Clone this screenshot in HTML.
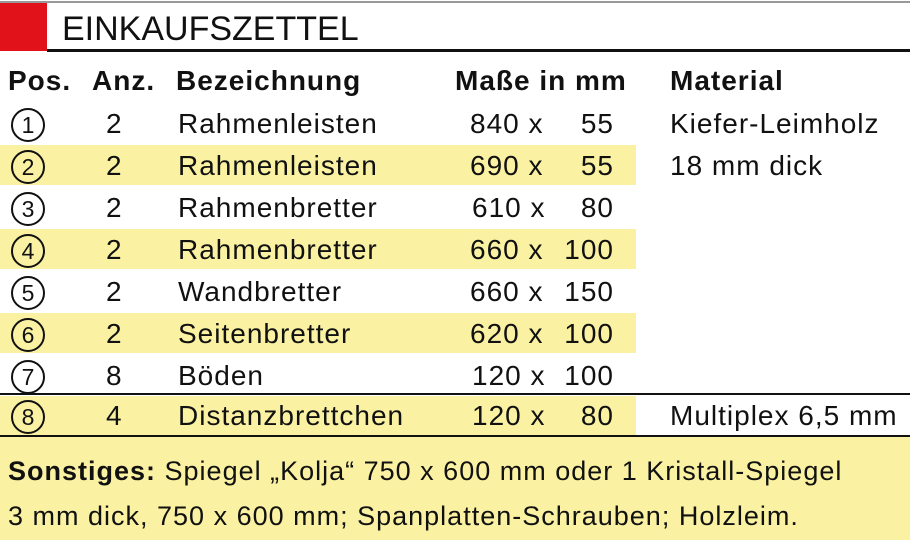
<!DOCTYPE html>
<html><head><meta charset="utf-8"><style>
body{margin:0;width:910px;height:540px;background:#fff;position:relative;overflow:hidden;font-family:"Liberation Sans",sans-serif;color:#111}
div{position:absolute}
.t{font-size:28px;line-height:42px;height:42px;white-space:nowrap;letter-spacing:1px}
.b{font-weight:bold;letter-spacing:1px}
.c{width:30px;height:30px;border:2px solid #111;border-radius:50%;font-size:23px;line-height:30px;text-align:center;left:11px}
.y{background:#faf2a2}
</style></head><body>
<div style="left:0;top:1px;width:910px;height:2px;background:#999"></div>
<div style="left:0;top:3px;width:47px;height:48px;background:#e2121b"></div>
<div style="left:47px;top:49px;width:863px;height:3px;background:#111"></div>
<div style="left:62px;top:8px;font-size:34px;line-height:42px">EINKAUFSZETTEL</div>

<div class="y" style="left:0;top:145px;width:636px;height:40px"></div>
<div class="y" style="left:0;top:229px;width:636px;height:40px"></div>
<div class="y" style="left:0;top:313px;width:636px;height:40px"></div>
<div class="y" style="left:0;top:396px;width:636px;height:39px"></div>
<div style="left:0;top:393px;width:910px;height:2px;background:#111"></div>
<div style="left:0;top:435px;width:910px;height:2px;background:#111"></div>
<div class="y" style="left:0;top:437px;width:910px;height:103px"></div>

<div class="t b" style="left:8px;top:60px">Pos.</div>
<div class="t b" style="left:92px;top:60px">Anz.</div>
<div class="t b" style="left:176px;top:60px">Bezeichnung</div>
<div class="t b" style="left:455px;top:60px">Maße in mm</div>
<div class="t b" style="left:670px;top:60px">Material</div>

<div class="c" style="top:108px">1</div><div class="t" style="left:106px;top:103px">2</div><div class="t" style="left:178px;top:103px">Rahmenleisten</div><div class="t" style="left:470px;top:103px">840 x</div><div class="t" style="left:556px;top:103px;width:58px;text-align:right">55</div>
<div class="c" style="top:150px">2</div><div class="t" style="left:106px;top:145px">2</div><div class="t" style="left:178px;top:145px">Rahmenleisten</div><div class="t" style="left:470px;top:145px">690 x</div><div class="t" style="left:556px;top:145px;width:58px;text-align:right">55</div>
<div class="c" style="top:192px">3</div><div class="t" style="left:106px;top:187px">2</div><div class="t" style="left:178px;top:187px">Rahmenbretter</div><div class="t" style="left:472px;top:187px">610 x</div><div class="t" style="left:556px;top:187px;width:58px;text-align:right">80</div>
<div class="c" style="top:234px">4</div><div class="t" style="left:106px;top:229px">2</div><div class="t" style="left:178px;top:229px">Rahmenbretter</div><div class="t" style="left:470px;top:229px">660 x</div><div class="t" style="left:556px;top:229px;width:58px;text-align:right">100</div>
<div class="c" style="top:276px">5</div><div class="t" style="left:106px;top:271px">2</div><div class="t" style="left:178px;top:271px">Wandbretter</div><div class="t" style="left:470px;top:271px">660 x</div><div class="t" style="left:556px;top:271px;width:58px;text-align:right">150</div>
<div class="c" style="top:318px">6</div><div class="t" style="left:106px;top:313px">2</div><div class="t" style="left:178px;top:313px">Seitenbretter</div><div class="t" style="left:470px;top:313px">620 x</div><div class="t" style="left:556px;top:313px;width:58px;text-align:right">100</div>
<div class="c" style="top:360px">7</div><div class="t" style="left:106px;top:355px">8</div><div class="t" style="left:178px;top:355px">Böden</div><div class="t" style="left:472px;top:355px">120 x</div><div class="t" style="left:556px;top:355px;width:58px;text-align:right">100</div>
<div class="c" style="top:400px">8</div><div class="t" style="left:106px;top:395px">4</div><div class="t" style="left:178px;top:395px">Distanzbrettchen</div><div class="t" style="left:472px;top:395px">120 x</div><div class="t" style="left:556px;top:395px;width:58px;text-align:right">80</div>

<div class="t" style="left:670px;top:103px">Kiefer-Leimholz</div>
<div class="t" style="left:670px;top:145px">18 mm dick</div>
<div class="t" style="left:670px;top:395px">Multiplex 6,5 mm</div>

<div class="t" style="left:8px;top:450px;font-size:27px"><b>Sonstiges:</b> Spiegel „Kolja“ 750 x 600 mm oder 1 Kristall-Spiegel</div>
<div class="t" style="left:8px;top:495px;font-size:27px">3 mm dick, 750 x 600 mm; Spanplatten-Schrauben; Holzleim.</div>
</body></html>
